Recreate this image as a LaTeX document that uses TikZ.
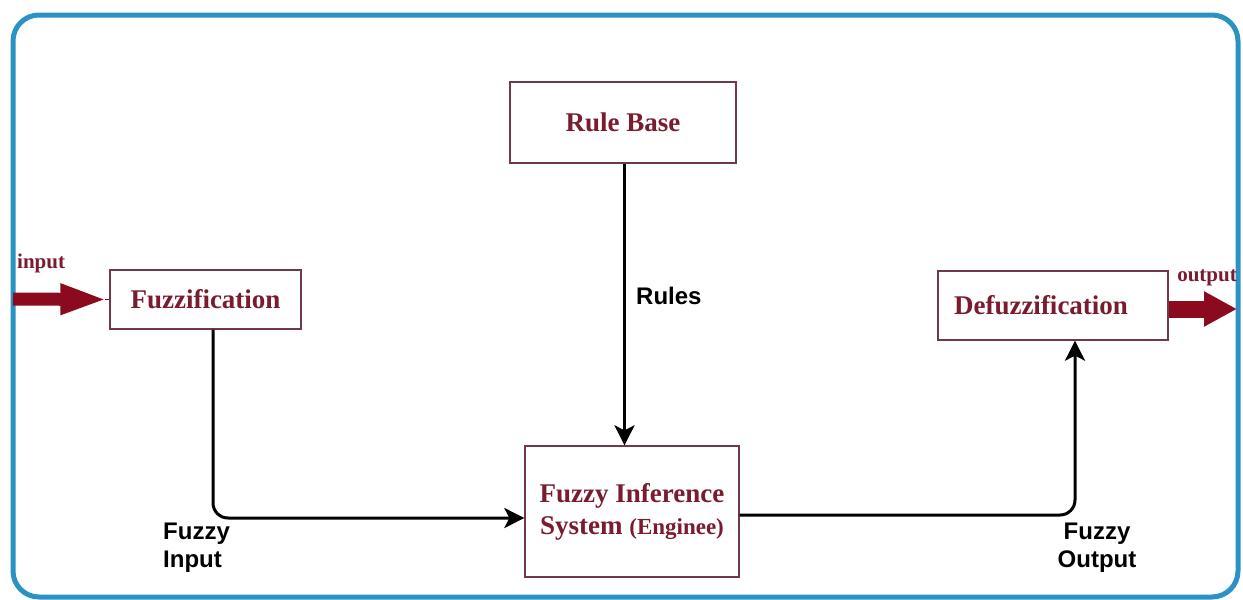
\documentclass[tikz,border=0pt]{standalone}
\usepackage{fontspec}
\setmainfont{Liberation Serif}
\newfontfamily\labelfont{Liberation Sans}
\usetikzlibrary{arrows.meta}

\definecolor{framecol}{HTML}{2A93C3}
\definecolor{boxtext}{HTML}{7A1C2E}
\definecolor{boxedge}{HTML}{6E3A46}
\definecolor{ioarrow}{HTML}{8B0A1E}

\tikzset{
  block/.style={draw=boxedge, line width=1.3pt, fill=white, inner sep=0pt,
    text=boxtext, font=\bfseries\fontsize{27}{32}\selectfont, align=center},
  conn/.style={draw=black, line width=3pt,
    -{Stealth[length=20pt,width=20pt,inset=5pt]}},
  flowlabel/.style={inner sep=0pt, text=black,
    font=\labelfont\bfseries\fontsize{24}{28}\selectfont},
  iolabel/.style={inner sep=0pt, text=boxtext,
    font=\bfseries\fontsize{21}{24}\selectfont},
  bigarrow/.style={draw=ioarrow, line cap=butt}
}

\begin{document}
\begin{tikzpicture}[x=1pt,y=-1pt]
  \useasboundingbox (0,0) rectangle (1243,600);

  % outer frame
  \draw[framecol, line width=5pt, rounded corners=26pt] (13,15) rectangle (1238,597);

  % blocks
  \node[block, minimum width=226pt, minimum height=81pt] (rb) at (623,122.5) {Rule Base};
  \node[block, minimum width=191pt, minimum height=59pt] (fz) at (205.5,299.5) {Fuzzification};
  \node[block, minimum width=230pt, minimum height=69pt] (dz) at (1053,305.5) {Defuzzification\hspace*{24pt}};
  \node[block, minimum width=214pt, minimum height=131pt] (fis) at (632,511.5)
    {Fuzzy Inference\\System {\fontsize{23}{32}\selectfont(Enginee)}};

  % input / output arrows
  \coordinate (inL) at (13,299);
  \coordinate (outR) at (1237,309);
  \draw[bigarrow, line width=13pt,
    -{Triangle[length=47pt,width=28pt]}] (inL) -- ([xshift=-2pt]fz.west);
  \draw[ioarrow, line width=1.2pt] ([xshift=-4pt]fz.west) -- (fz.west);
  \draw[bigarrow, line width=17pt,
    -{Triangle[length=33pt,width=33pt]}] (dz.east |- outR) -- (outR);

  \node[iolabel, anchor=west] (inlab) at (17,263) {input};
  \node[iolabel, anchor=east] (outlab) at (1237,278) {output};

  % connectors
  \draw[conn, rounded corners=15pt] ([xshift=7.5pt]fz.south) |- ([yshift=-6.5pt]fis.west);
  \draw[conn] ([xshift=1.5pt]rb.south) -- ([xshift=1.5pt]rb.south |- fis.north);
  \draw[conn, rounded corners=15pt] ([yshift=-3.5pt]fis.east) -| ([xshift=22pt]dz.south);

  % connector labels
  \node[flowlabel, anchor=west] (rules) at (636,296) {Rules};
  \node[flowlabel, anchor=north west, align=left] (fin) at (163,523) {Fuzzy\\Input};
  \node[flowlabel, anchor=north, align=center] (fout) at (1097,523) {Fuzzy\\Output};
\end{tikzpicture}
\end{document}
